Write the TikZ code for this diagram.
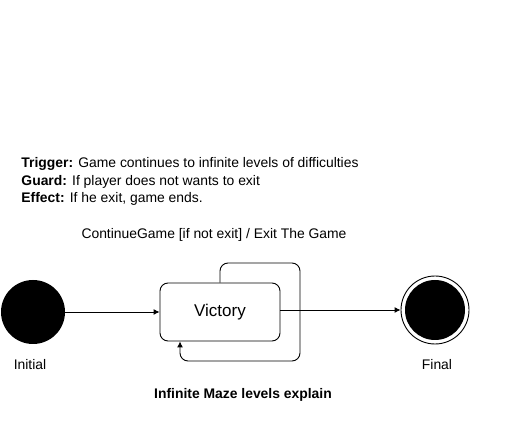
\documentclass[tikz,border=0pt]{standalone}
\usepackage{fontspec}
\setmainfont{Liberation Sans}
\usetikzlibrary{arrows.meta,positioning,calc}
\definecolor{umlLine}{RGB}{0,0,0}
\tikzset{
  statebox/.style={rounded corners=8pt, draw=umlLine, fill=white, minimum width=120pt,
              minimum height=58pt, inner sep=2pt, font=\fontsize{17}{20}\selectfont},
  startdot/.style={circle, fill=black, minimum size=64pt, inner sep=0pt},
  enddot/.style={circle, draw=black, fill=white, minimum size=68pt, inner sep=0pt},
  label/.style={font=\fontsize{13.9}{16}\selectfont, inner sep=1pt},
  arrow/.style={-{Latex[length=6pt,width=6pt]}, draw=umlLine}
}
\begin{document}
\begin{tikzpicture}[x=1pt, y=-1pt, line width=0.9pt]
\useasboundingbox (0,0) rectangle (512,422);
% states
\node[startdot] (init) at (33,312) {};
\node[statebox] (vic) at (220,312) {Victory};
\node[enddot] (fin) at (435,310) {};
\node[circle, fill=black, minimum size=60pt, inner sep=0pt] (finIn) at (fin) {};
\node[label] (initLbl) at (30,365) {Initial};
\node[label] (finLbl) at (437,365) {Final};
% transitions
\draw[arrow] (init.east) -- (vic.west);
\draw[arrow] (vic.east |- fin) -- (fin.west);
\coordinate (lpA) at (300,263);
\coordinate (lpB) at (180,361);
\draw[arrow, rounded corners=8pt] (vic.north) |- (lpA) |- (lpB) -- (vic.south -| lpB);
% texts
\node[label, anchor=north west, align=left, font=\fontsize{13.9}{17.5}\selectfont] (note) at (20,156)
  {\textbf{Trigger:} Game continues to infinite levels of difficulties\\
   \textbf{Guard:} If player does not wants to exit\\
   \textbf{Effect:} If he exit, game ends.};
\node[label] (trans) at (214,235) {ContinueGame [if not exit] / Exit The Game};
\node[label, font=\bfseries\fontsize{13.9}{16}\selectfont] (title) at (243,395) {Infinite Maze levels explain};
\end{tikzpicture}
\end{document}
